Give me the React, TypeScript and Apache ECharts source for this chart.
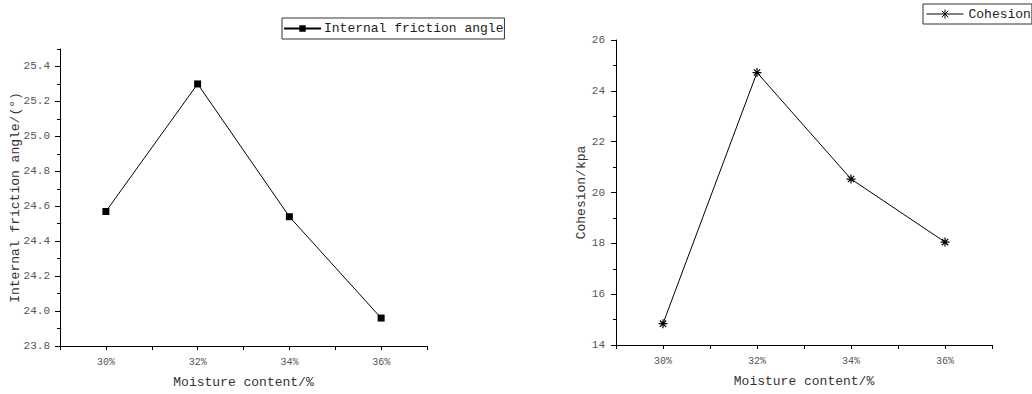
import React, { useEffect, useRef } from "react";
import * as echarts from "echarts";

const moisture = [30, 32, 34, 36];
const frictionAngle = [24.57, 25.3, 24.54, 23.96];
const cohesion = [14.84, 24.72, 20.53, 18.05];
const frictionTicks = [23.8, 24.0, 24.2, 24.4, 24.6, 24.8, 25.0, 25.2, 25.4];
const xLabelValues = [30, 32, 34, 36];

const FONT = "'Liberation Mono', 'DejaVu Sans Mono', monospace";
const ASTERISK = "path://M0,5L10,5M5,0L5,10M1.5,1.5L8.5,8.5M8.5,1.5L1.5,8.5";
const ASTERISK_LEGEND =
  "path://M0,4.5L37,4.5M18.5,0L18.5,9M15.3,1.3L21.7,7.7M21.7,1.3L15.3,7.7";

export default function App() {
  const ref = useRef<HTMLDivElement>(null);
  useEffect(() => {
    document.body.style.margin = "0";
    const chart = echarts.init(ref.current!, null, { renderer: "svg" });

    const xAxisBase = (gridIndex: number) => ({
      type: "value",
      gridIndex,
      min: 29,
      max: 37,
      interval: 1,
      name: "Moisture content/%",
      nameLocation: "middle",
      nameGap: 30,
      nameTextStyle: { fontFamily: FONT, fontSize: 13, color: "#333" },
      axisLine: { show: true, lineStyle: { color: "#000", width: 1 } },
      axisTick: { show: true, inside: false, length: 4, lineStyle: { color: "#000" } },
      axisLabel: {
        show: true,
        margin: 11,
        fontFamily: FONT,
        fontSize: 10,
        color: "#555",
        formatter: (v: number) =>
          xLabelValues.includes(Math.round(v)) && Math.abs(v - Math.round(v)) < 1e-6 ? Math.round(v) + "%" : "",
      },
      splitLine: { show: false },
    });

    chart.setOption({
      animation: false,
      backgroundColor: "#fff",
      legend: [
        {
          data: ["Internal friction angle"],
          left: 282,
          top: 18,
          padding: [4, 1, 4, 1],
          borderColor: "#333",
          borderWidth: 1,
          itemWidth: 37,
          itemHeight: 8,
          itemGap: 0,
          textStyle: { fontFamily: FONT, fontSize: 13, color: "#222", padding: [0, 0, 0, -2] },
        },
        {
          data: [{ name: "Cohesion", icon: ASTERISK_LEGEND }],
          left: 923,
          top: 4,
          padding: [3, 1, 3, 1],
          borderColor: "#333",
          borderWidth: 1,
          itemWidth: 37,
          itemHeight: 9,
          itemGap: 0,
          itemStyle: { color: "none", borderColor: "#000", borderWidth: 1 },
          textStyle: { fontFamily: FONT, fontSize: 13, color: "#222" },
        },
      ],
      grid: [
        { left: 60, top: 49, width: 367, height: 297 },
        { left: 616, top: 40, width: 376, height: 305 },
      ],
      xAxis: [xAxisBase(0), xAxisBase(1)],
      yAxis: [
        {
          type: "value",
          gridIndex: 0,
          position: "left",
          min: 23.8,
          max: 25.5,
          interval: 0.1,
          name: "Internal friction angle/(°)",
          nameLocation: "middle",
          nameGap: 38,
          nameTextStyle: { fontFamily: FONT, fontSize: 13, color: "#333" },
          axisLine: { show: true, lineStyle: { color: "#000", width: 1 } },
          axisTick: { show: true, inside: false, length: 3, lineStyle: { color: "#000" } },
          axisLabel: { show: false },
          splitLine: { show: false },
        },
        {
          type: "value",
          gridIndex: 0,
          position: "left",
          min: 23.8,
          max: 25.5,
          interval: 0.1,
          axisLine: { show: false },
          axisTick: { show: true, inside: false, length: 5, customValues: frictionTicks, lineStyle: { color: "#000" } },
          axisLabel: {
            show: true,
            margin: 10,
            fontFamily: FONT,
            fontSize: 11,
            color: "#555",
            customValues: frictionTicks,
            formatter: (v: number) => v.toFixed(1),
          },
          splitLine: { show: false },
        },
        {
          type: "value",
          gridIndex: 1,
          position: "left",
          min: 14,
          max: 26,
          interval: 2,
          name: "Cohesion/kpa",
          nameLocation: "middle",
          nameGap: 27,
          nameTextStyle: { fontFamily: FONT, fontSize: 13, color: "#333" },
          axisLine: { show: true, lineStyle: { color: "#000", width: 1 } },
          axisTick: { show: true, inside: false, length: 5, lineStyle: { color: "#000" } },
          minorTick: { show: true, splitNumber: 2, length: 3, lineStyle: { color: "#000" } },
          axisLabel: { show: true, margin: 11, fontFamily: FONT, fontSize: 11, color: "#555" },
          splitLine: { show: false },
          minorSplitLine: { show: false },
        },
      ],
      series: [
        {
          name: "Internal friction angle",
          type: "line",
          xAxisIndex: 0,
          yAxisIndex: 0,
          data: moisture.map((m, i) => [m, frictionAngle[i]]),
          symbol: "rect",
          symbolSize: 7,
          lineStyle: { color: "#000", width: 1 },
          itemStyle: { color: "#000" },
        },
        {
          name: "Cohesion",
          type: "line",
          xAxisIndex: 1,
          yAxisIndex: 2,
          data: moisture.map((m, i) => [m, cohesion[i]]),
          symbol: ASTERISK,
          symbolSize: 9,
          lineStyle: { color: "#000", width: 1 },
          itemStyle: { color: "#000", borderColor: "#000", borderWidth: 1.2 },
        },
      ],
    });
    return () => chart.dispose();
  }, []);
  return <div ref={ref} style={{ position: "absolute", left: 0, top: 0, width: 1032, height: 394 }} />;
}
